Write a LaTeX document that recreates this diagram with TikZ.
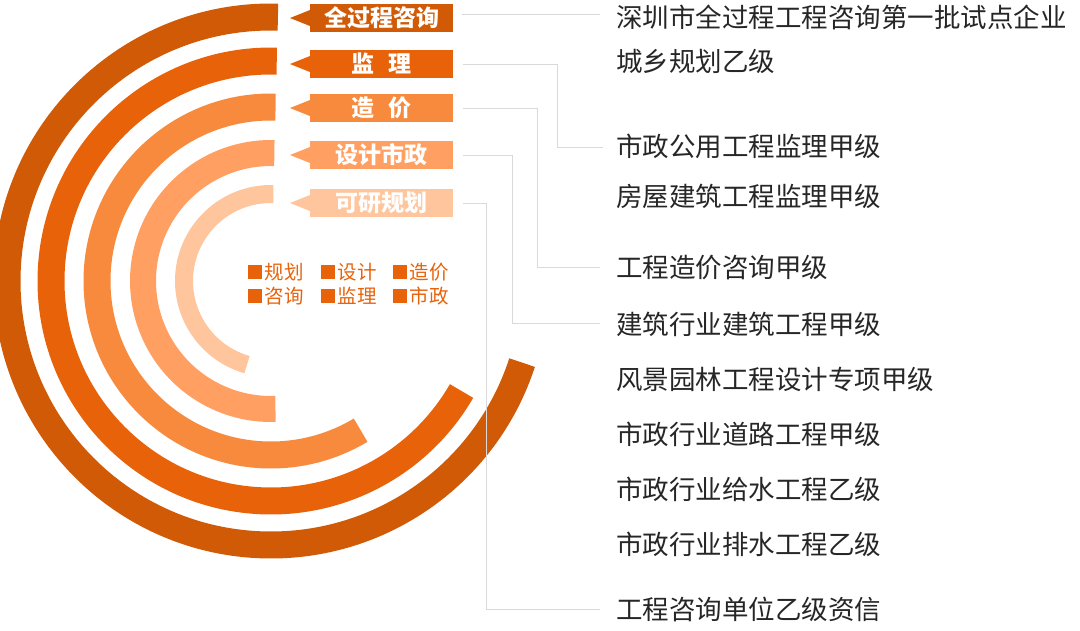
\documentclass[tikz,border=0pt]{standalone}
\usepackage{fontspec}
\setmainfont{Noto Sans CJK SC}
\begin{document}
\begin{tikzpicture}[x=1pt,y=-1pt,
  ring/.style={line width=#1, line cap=butt},
  tag/.style={fill=#1, text=white, font=\fontsize{23}{23}\selectfont\bfseries, minimum width=143pt, minimum height=28pt, inner sep=0pt, anchor=west},
  conn/.style={draw=black!15, line width=1pt},
  info/.style={anchor=west, font=\fontsize{26.5}{26.5}\selectfont, text=black!85, inner sep=0pt},
  leg/.style={anchor=west, font=\fontsize{19.5}{19.5}\selectfont, text=c2, inner sep=0pt},
  sq/.style={fill=c2, minimum size=14pt, inner sep=0pt, anchor=west}]
\definecolor{c1}{HTML}{D05A06}
\definecolor{c2}{HTML}{E8620A}
\definecolor{c3}{HTML}{F78A3C}
\definecolor{c4}{HTML}{FFA062}
\definecolor{c5}{HTML}{FFC59C}
\useasboundingbox (0,0) rectangle (1080,630);
\coordinate (O) at (271,281);
% rings
\draw[c1, ring=27pt] ([shift={(-88.5:264)}]O) arc[start angle=-88.5, end angle=-342, radius=264];
\draw[c2, ring=27pt] ([shift={(-88.5:220)}]O) arc[start angle=-88.5, end angle=-330, radius=220];
\draw[c3, ring=27pt] ([shift={(-88.5:174)}]O) arc[start angle=-88.5, end angle=-301, radius=174];
\draw[c4, ring=26pt] ([shift={(-88.5:128)}]O) arc[start angle=-88.5, end angle=-272, radius=128];
\draw[c5, ring=18pt] ([shift={(-88.5:87)}]O) arc[start angle=-88.5, end angle=-254, radius=87];
% tags
\node[tag=c1] (t1) at (310,18) {全过程咨询};
\node[tag=c2] (t2) at (310,64) {监\hspace{0.6em}理};
\node[tag=c3] (t3) at (310,108) {造\hspace{0.6em}价};
\node[tag=c4] (t4) at (310,155) {设计市政};
\node[tag=c5] (t5) at (310,203) {可研规划};
\foreach \i/\c in {1/c1,2/c2,3/c3,4/c4,5/c5}{
  \fill[\c] (t\i.west) ++(0,-8) -- ++(-20,8) -- ++(20,8) -- cycle;
}
% legend
\node[sq] (s1) at (248,272) {}; \node[leg] (l1) at ([xshift=2pt]s1.east) {规划};
\node[sq] (s2) at (321,272) {}; \node[leg] (l2) at ([xshift=2pt]s2.east) {设计};
\node[sq] (s3) at (393,272) {}; \node[leg] (l3) at ([xshift=2pt]s3.east) {造价};
\node[sq] (s4) at (248,296) {}; \node[leg] (l4) at ([xshift=2pt]s4.east) {咨询};
\node[sq] (s5) at (321,296) {}; \node[leg] (l5) at ([xshift=2pt]s5.east) {监理};
\node[sq] (s6) at (393,296) {}; \node[leg] (l6) at ([xshift=2pt]s6.east) {市政};
% info texts
\node[info] (r1) at (616,17) {深圳市全过程工程咨询第一批试点企业};
\node[info] (r2) at (616,61) {城乡规划乙级};
\node[info] (r3) at (616,146) {市政公用工程监理甲级};
\node[info] (r4) at (616,196) {房屋建筑工程监理甲级};
\node[info] (r5) at (616,268) {工程造价咨询甲级};
\node[info] (r6) at (616,324) {建筑行业建筑工程甲级};
\node[info] (r7) at (616,379) {风景园林工程设计专项甲级};
\node[info] (r8) at (616,434) {市政行业道路工程甲级};
\node[info] (r9) at (616,489) {市政行业给水工程乙级};
\node[info] (r10) at (616,544) {市政行业排水工程乙级};
\node[info] (r11) at (616,609) {工程咨询单位乙级资信};
% connectors
\coordinate (e1) at (600,14);
\coordinate (e2) at (603,147);
\coordinate (e3) at (600,267);
\coordinate (e4) at (600,323);
\coordinate (e5) at (600,609);
\draw[conn] (462,14) -- (e1);
\draw[conn] ([xshift=10pt]t2.east) -| (557,147) -- (e2);
\draw[conn] ([xshift=10pt]t3.east) -| (537,267) -- (e3);
\draw[conn] ([xshift=10pt]t4.east) -| (512,323) -- (e4);
\draw[conn] ([xshift=10pt]t5.east) -| (486,609) -- (e5);
\end{tikzpicture}
\end{document}
